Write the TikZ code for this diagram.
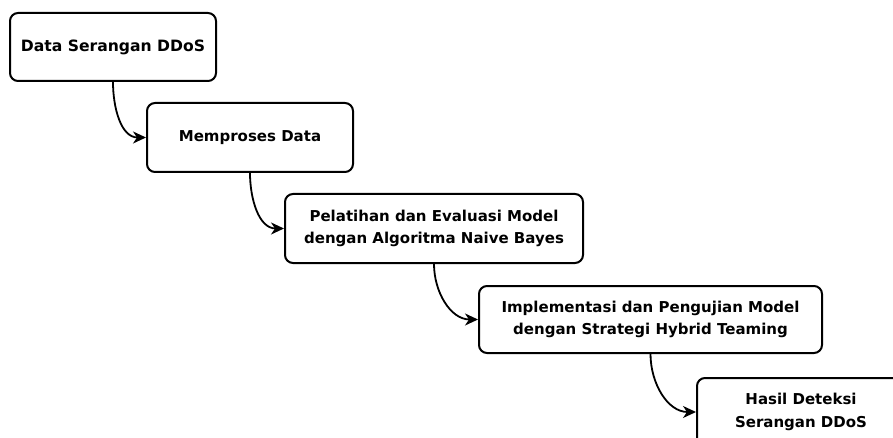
\documentclass[tikz,border=0pt]{standalone}
\usepackage{fontspec}
\setmainfont{DejaVu Sans}
\usetikzlibrary{arrows.meta}
\begin{document}
\begin{tikzpicture}[x=1pt,y=-1pt,
  box/.style={draw=black, line width=2pt, rounded corners=8pt, fill=white,
    align=center, inner sep=0pt,
    font=\fontsize{15}{22.5}\selectfont\bfseries},
  flow/.style={line width=1.8pt, -{Stealth[length=13pt,width=12pt,inset=4pt]}}]
\useasboundingbox (0,0) rectangle (893,438);
\clip (0,0) rectangle (893,438);
\node[box, minimum width=206pt, minimum height=68pt, font=\fontsize{15.6}{22}\selectfont\bfseries] (b1) at (113,47) {Data Serangan DDoS};
\node[box, minimum width=206pt, minimum height=69pt] (b2) at (250,137.5) {Memproses Data};
\node[box, minimum width=298pt, minimum height=69pt] (b3) at (434,228.5) {Pelatihan dan Evaluasi Model\\dengan Algoritma Naive Bayes};
\node[box, minimum width=343pt, minimum height=67pt] (b4) at (650.5,319.5) {Implementasi dan Pengujian Model\\dengan Strategi Hybrid Teaming};
\node[box, minimum width=208pt, minimum height=68pt] (b5) at (801,412) {Hasil Deteksi\\Serangan DDoS};
\draw[flow] (b1.south) to[out=-90,in=180] (b2.west);
\draw[flow] (b2.south) to[out=-90,in=180] (b3.west);
\draw[flow] (b3.south) to[out=-90,in=180] (b4.west);
\draw[flow] (b4.south) to[out=-90,in=180] (b5.west);
\end{tikzpicture}
\end{document}
